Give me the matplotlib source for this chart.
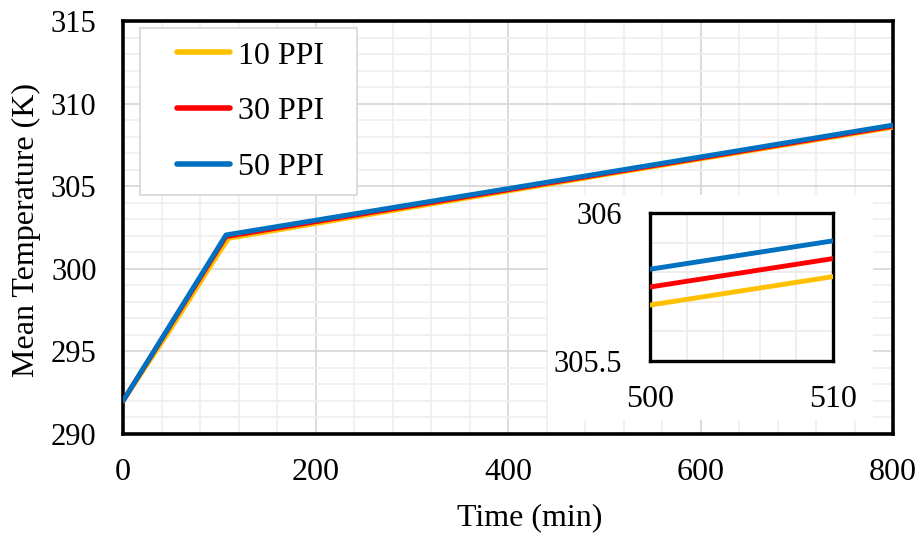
import matplotlib
matplotlib.use("Agg")
import matplotlib.pyplot as plt
from matplotlib.ticker import MultipleLocator
from matplotlib.patches import Rectangle
import numpy as np

plt.rcParams['font.family'] = ['Liberation Serif', 'DejaVu Serif']

# Data (time in min, mean temperature in K)
t_10 = [0, 50, 100, 110, 500, 510, 800]
T_10 = [292.0, 296.4, 301.0, 301.85, 305.689, 305.785, 308.57]
t_30 = [0, 107, 500, 510, 800]
T_30 = [292.0, 301.95, 305.75, 305.846, 308.63]
t_50 = [0, 107, 500, 510, 800]
T_50 = [292.0, 302.05, 305.81, 305.906, 308.70]

labels = ["10 PPI", "30 PPI", "50 PPI"]
colors = ["#FFC000", "#FF0000", "#0070C0"]
series = [(t_10, T_10), (t_30, T_30), (t_50, T_50)]

W, H = 924, 539
fig = plt.figure(figsize=(W / 100, H / 100), dpi=100)

def rect(x0, y0, x1, y1):
    return [x0 / W, 1 - y1 / H, (x1 - x0) / W, (y1 - y0) / H]

AX = (123, 21, 893, 434)
ax = fig.add_axes(rect(*AX))
axw, axh = AX[2] - AX[0], AX[3] - AX[1]
def axfrac(px, py):
    return ((px - AX[0]) / axw, 1 - (py - AX[1]) / axh)

for (t, T), c, l in zip(series, colors, labels):
    ax.plot(t, T, color=c, lw=3.5, label=l, solid_capstyle='round', zorder=3)
ax.set_xlim(0, 800)
ax.set_ylim(290, 315)
ax.xaxis.set_major_locator(MultipleLocator(200))
ax.xaxis.set_minor_locator(MultipleLocator(40))
ax.yaxis.set_major_locator(MultipleLocator(5))
ax.yaxis.set_minor_locator(MultipleLocator(1))
ax.grid(which='major', color='#D9D9D9', lw=1.3)
ax.grid(which='minor', color='#F0F0F0', lw=1.3)
ax.set_axisbelow(True)
ax.tick_params(which='both', length=0)
ax.tick_params(axis='x', pad=17, labelsize=23)
ax.tick_params(axis='y', pad=19, labelsize=22)
for s in ax.spines.values():
    s.set_linewidth(2.6)
    s.set_color('black')
ax.set_xlabel("Time (min)", fontsize=23)
ax.set_ylabel("Mean Temperature (K)", fontsize=23)
ax.xaxis.set_label_coords(axfrac(530, 0)[0], axfrac(0, 503)[1])
ax.yaxis.set_label_coords(axfrac(41, 0)[0], 0.494)

# legend frame drawn explicitly, legend itself frameless
x0, y0 = axfrac(140, 195)
x1, y1 = axfrac(357, 28)
ax.add_patch(Rectangle((x0, y0), x1 - x0, y1 - y0, transform=ax.transAxes,
                       facecolor='white', edgecolor='#D9D9D9', lw=1.3, zorder=4))
cx, cy = axfrac((140 + 357) / 2 + 2, (28 + 195) / 2)
leg = ax.legend(loc='center', bbox_to_anchor=(cx, cy), fontsize=23,
                frameon=False, handlelength=1.65, handletextpad=0.25,
                labelspacing=0.82, borderpad=0, borderaxespad=0)
leg.set_zorder(5)
for h in leg.get_lines():
    h.set_linewidth(4.0)
    h.set_solid_capstyle('round')

# white background area for inset
bg = fig.add_axes(rect(548, 195, 873, 420))
bg.set_facecolor('white')
bg.set_xticks([]); bg.set_yticks([])
for s in bg.spines.values():
    s.set_visible(False)

ins = fig.add_axes(rect(650, 213, 833, 361))
for (t, T), c in zip(series, colors):
    ins.plot(t, T, color=c, lw=3.5, solid_capstyle='butt', zorder=3)
ins.set_xlim(500, 510)
ins.set_ylim(305.5, 306)
ins.set_xticks([500, 510])
ins.set_yticks([305.5, 306])
ins.set_yticklabels(["305.5", "306"])
ins.xaxis.set_minor_locator(MultipleLocator(2))
ins.yaxis.set_minor_locator(MultipleLocator(0.1))
ins.grid(which='both', color='#EBEBEB', lw=1.2)
ins.set_axisbelow(True)
ins.tick_params(which='both', length=0)
ins.tick_params(axis='y', pad=20, labelsize=22)
ins.tick_params(axis='x', pad=17, labelsize=23)
for s in ins.spines.values():
    s.set_linewidth(2.4)
    s.set_color('black')

fig.savefig("out.png", dpi=100)
